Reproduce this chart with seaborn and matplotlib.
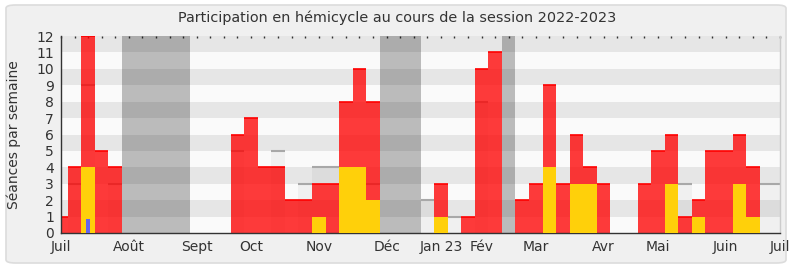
import numpy as np
import pandas as pd
import matplotlib
matplotlib.use("Agg")
import matplotlib.pyplot as plt
from matplotlib.patches import FancyBboxPatch
import seaborn as sns

weeks = list(range(54))
red = [1, 4, 12, 5, 4, 0, 0, 0, 0, 0,
       0, 0, 0, 6, 7, 4, 4, 2, 2, 3,
       3, 8, 10, 8, 0, 0, 0, 0, 3, 0,
       1, 10, 11, 0, 2, 3, 9, 3, 6, 4,
       3, 0, 0, 3, 5, 6, 1, 2, 5, 5,
       6, 4, 0, 0]
yellow = [0, 0, 4, 0, 0, 0, 0, 0, 0, 0,
          0, 0, 0, 0, 0, 0, 0, 0, 0, 1,
          0, 4, 4, 2, 0, 0, 0, 0, 1, 0,
          0, 0, 0, 0, 0, 0, 4, 0, 3, 3,
          0, 0, 0, 0, 0, 3, 0, 1, 0, 0,
          3, 1, 0, 0]
blue = [0, 0, 0.85] + [0] * 51
median = [0, 3, 9, 0, 3, 0, 0, 0, 0, 0,
          0, 0, 0, 5, 0, 0, 5, 0, 3, 4,
          4, 0, 0, 3, 0, 0, 0, 2, 0, 1,
          0, 8, 0, 0, 0, 0, 0, 0, 0, 0,
          0, 0, 0, 0, 0, 0, 3, 0, 0, 0,
          0, 0, 3, 3]
vacations = [(4.5, 9.5), (23.5, 26.5), (32.5, 33.5)]
month_weeks = [0, 5, 10, 14, 19, 24, 28, 31, 35, 40, 44, 49, 53]
month_labels = ['Juil', 'Août', 'Sept', 'Oct', 'Nov', 'Déc', 'Jan 23', 'Fév',
                'Mar', 'Avr', 'Mai', 'Juin', 'Juil']

df = pd.DataFrame({'week': weeks, 'red': red, 'yellow': yellow,
                   'blue': blue, 'median': median})

sns.set_style("white")
plt.rcParams['font.family'] = ['DejaVu Sans']

fig = plt.figure(figsize=(7.9, 2.67), dpi=100)
fig.patch.set_facecolor('white')
panel = FancyBboxPatch((6 / 790, 4 / 267), 780 / 790, 258 / 267,
                       boxstyle="round,pad=0,rounding_size=0.012",
                       transform=fig.transFigure, facecolor='#f0f0f0',
                       edgecolor='#dcdcdc', linewidth=1.2, zorder=-10)
fig.patches.append(panel)

ax = fig.add_axes([61 / 790, 1 - 233 / 267, 719 / 790, 197 / 267])
ax.set_facecolor('#fafafa')

# horizontal bands
for k in range(1, 12, 2):
    ax.axhspan(k, k + 1, color='#e6e6e6', zorder=0, linewidth=0)

# median bars
sns.barplot(data=df, x='week', y='median', native_scale=True, width=1,
            color='black', alpha=0.04, saturation=1, errorbar=None,
            linewidth=0, ax=ax, zorder=1)
med = np.array(median, dtype=float)
mw = np.array(weeks, dtype=float)
for w, m in zip(mw[med > 0], med[med > 0]):
    ax.hlines(m, w - 0.5, w + 0.5, color='#a8a8a8', linewidth=1.5, zorder=1.5)

# red bars
sns.barplot(data=df, x='week', y='red', native_scale=True, width=1,
            color='#ff0000', alpha=0.77, saturation=1, errorbar=None,
            linewidth=0, ax=ax, zorder=2)
rv = np.array(red, dtype=float)
for w, r in zip(mw[rv > 0], rv[rv > 0]):
    ax.hlines(r, w - 0.5, w + 0.5, color='#ff0000', linewidth=1.2, zorder=2.5)

# yellow bars
sns.barplot(data=df, x='week', y='yellow', native_scale=True, width=1,
            color='#ffd00a', saturation=1, errorbar=None,
            linewidth=0, ax=ax, zorder=3)
# blue bars
sns.barplot(data=df, x='week', y='blue', native_scale=True, width=0.3,
            color='#6464f0', saturation=1, errorbar=None,
            linewidth=0, ax=ax, zorder=4)

for a, b in vacations:
    ax.axvspan(a, b, color='black', alpha=0.25, linewidth=0, zorder=5)

ax.set_xlim(0, 53)
ax.set_ylim(0, 12)
ax.set_yticks(range(13))
ax.set_xticks(weeks, minor=False)
labels = [''] * 54
for w, l in zip(month_weeks, month_labels):
    labels[w] = l
ax.set_xticklabels(labels)
ax.tick_params(axis='x', which='major', direction='out', length=4, width=1,
               color='#333333', labelsize=10, labelcolor='#333333', pad=1,
               top=True, labeltop=False)
ax.tick_params(axis='y', direction='out', length=4, width=1, color='#333333',
               labelsize=10, labelcolor='#333333', pad=1)
for t in ax.xaxis.get_major_ticks():
    t.tick2line.set_markersize(1.3)
    t.tick2line.set_color('#333333')
    t.tick2line.set_marker(3)

ax.set_xlabel('')
ax.set_ylabel('Séances par semaine', fontsize=10, color='#333333')
ax.yaxis.set_label_coords(-0.055, 0.5)
for s in ['left', 'bottom']:
    ax.spines[s].set_color('#333333')
    ax.spines[s].set_linewidth(1)
ax.spines['top'].set_visible(False)
ax.spines['right'].set_color('#cccccc')
ax.spines['right'].set_linewidth(1)

fig.text(397 / 790, 1 - 18 / 267,
         'Participation en hémicycle au cours de la session 2022-2023',
         ha='center', va='center', fontsize=10.4, color='#333333')

fig.savefig('out.png', dpi=100)
